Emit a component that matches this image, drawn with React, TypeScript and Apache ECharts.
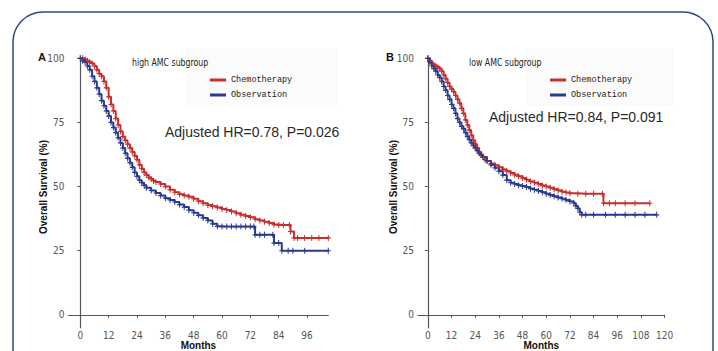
import React, { useEffect, useRef } from "react";
import * as echarts from "echarts";

// ---- data (months, survival %) ----
const xTicksA = [0, 12, 24, 36, 48, 60, 72, 84, 96];
const xTicksB = [0, 12, 24, 36, 48, 60, 72, 84, 96, 108, 120];
const yTicks = [0, 25, 50, 75, 100];

const highChemo: number[][] = [
  [0, 100], [1, 100], [2, 99.5], [3, 99], [4, 98.5], [5, 98], [6, 97], [7, 95.5], [8, 94], [9, 93],
  [10, 91], [11, 88.5], [12, 85], [13, 82], [14, 79.5], [15, 76.5], [16, 74], [17, 71.5], [18, 69.5],
  [19, 68], [20, 66.5], [21, 65], [22, 63.5], [23, 62], [24, 60.5], [25, 58.5], [26, 57], [27, 55.5],
  [28, 54.5], [29, 53.5], [30, 53], [31, 52.2], [32, 51.8], [34, 51], [36, 50], [38, 48.8], [40, 47.8],
  [42, 47], [44, 46.5], [46, 46], [48, 45.3], [50, 44.3], [52, 43.5], [54, 42.8], [56, 42.3], [58, 41.8],
  [60, 41.3], [62, 40.9], [64, 40.3], [66, 39.6], [68, 39], [70, 38.5], [72, 38], [74, 37.3], [76, 36.8],
  [78, 36.3], [80, 35.8], [82, 35.2], [84, 35], [86, 35], [88.5, 35], [89, 32.5], [90.5, 30], [92, 30],
  [95, 30], [98, 30], [101, 30], [105, 30],
];
const highObs: number[][] = [
  [0, 100], [1, 99], [2, 98.5], [3, 97], [4, 95.5], [5, 93], [6, 91], [7, 88.5], [8, 86], [9, 83.5],
  [10, 81.5], [11, 79.5], [12, 77.5], [13, 75], [14, 73], [15, 71], [16, 69], [17, 67], [18, 65], [19, 63],
  [20, 61], [21, 59.3], [22, 57.5], [23, 55.5], [24, 54], [25, 52.5], [26, 51.5], [27, 50.5], [28, 49.5],
  [30, 48.5], [32, 47.5], [34, 46.5], [36, 45.5], [38, 44.8], [40, 44], [42, 43], [44, 42], [46, 40.8],
  [48, 39.8], [50, 38.8], [52, 37.8], [54, 36.8], [56, 35.5], [58, 34.5], [60, 34.4], [62, 34.4],
  [64, 34.4], [66, 34.4], [68, 34.4], [70, 34.4], [72, 34.4], [73.5, 34.4], [74, 31.2], [76, 31.2],
  [78, 31.2], [81.5, 31.2], [82, 28], [84, 28], [85.3, 25], [88, 25], [90, 25], [95, 25], [105, 25],
];
const lowChemo: number[][] = [
  [0, 100], [1, 99], [2, 98], [3, 97.5], [4, 97], [5, 96.5], [6, 96], [7, 95], [8, 93.5], [9, 92],
  [10, 90.5], [11, 89], [12, 88], [13, 87], [14, 85.5], [15, 84], [16, 82.5], [17, 80.5], [18, 78.5],
  [19, 76], [20, 74], [21, 72], [22, 70], [23, 68], [24, 66.5], [25, 65], [26, 63.5], [27, 62.5],
  [28, 61.5], [29, 60.5], [30, 60], [32, 59], [34, 58.3], [36, 57.5], [38, 56.7], [40, 56], [42, 55.3],
  [44, 54.6], [46, 54], [48, 53.3], [50, 52.7], [52, 52], [54, 51.5], [56, 51], [58, 50.4], [60, 50],
  [62, 49.5], [64, 49], [66, 48.5], [68, 48], [70, 47.7], [72, 47.4], [76, 47.2], [80, 47.2], [84, 47.2],
  [88.5, 47.2], [89, 43.5], [92, 43.5], [95, 43.5], [100, 43.5], [105, 43.5], [112.5, 43.5],
];
const lowObs: number[][] = [
  [0, 100], [1, 98.5], [2, 97], [3, 96], [4, 95], [5, 93.5], [6, 92.5], [7, 91], [8, 89], [9, 87.5],
  [10, 85.5], [11, 84], [12, 82], [13, 80.5], [14, 78.5], [15, 76.5], [16, 75], [17, 73.5], [18, 72.5],
  [19, 71], [20, 69.5], [21, 68.3], [22, 67], [23, 66], [24, 65], [25, 64], [26, 63], [27, 62.3],
  [28, 61.5], [30, 60], [32, 58.5], [34, 57.3], [36, 56], [38, 54.5], [40, 52.5], [42, 51.5], [44, 51],
  [46, 50.5], [48, 50.2], [50, 49.8], [52, 49.2], [54, 48.8], [56, 48.3], [58, 47.8], [60, 47.2],
  [62, 46.7], [64, 46.2], [66, 45.7], [68, 45.3], [70, 44.8], [72, 44.2], [74, 43.5], [75, 42.5],
  [76, 41.5], [77, 40], [78, 39], [80, 39], [84, 39], [90, 39], [95, 39], [100, 39], [105, 39],
  [110, 39], [116, 39],
];

const RED = "#c62f2e";
const BLUE = "#2a3a8e";
const AXIS = "#555";
const NARROW = "'Liberation Sans Narrow', 'DejaVu Sans Condensed', 'Liberation Sans', sans-serif";
const PLUS = "path://M2,0h1v2h2v1h-2v2h-1v-2h-2v-1h2z";

function makeX(idx: number, max: number, ticks: number[]) {
  return {
    type: "value",
    gridIndex: idx,
    min: -5,
    max,
    splitLine: { show: false },
    axisLine: { show: true, lineStyle: { color: AXIS, width: 1.2 } },
    axisTick: { show: true, length: 3, customValues: ticks, lineStyle: { color: AXIS } },
    axisLabel: { customValues: ticks, color: "#555", fontSize: 10, fontFamily: NARROW, margin: 3 },
    name: "Months",
    nameLocation: "middle",
    nameGap: 13,
    nameMoveOverlap: false,
    nameTextStyle: { color: "#111", fontWeight: "bold", fontSize: 10, fontFamily: "Liberation Sans", lineHeight: 10 },
  };
}
function makeY(idx: number) {
  return {
    type: "value",
    gridIndex: idx,
    min: -5,
    max: 100,
    splitLine: { show: false },
    axisLine: { show: true, lineStyle: { color: AXIS, width: 1.2 } },
    axisTick: { show: true, length: 3, customValues: yTicks, lineStyle: { color: AXIS } },
    axisLabel: { customValues: yTicks, color: "#555", fontSize: 10, fontFamily: NARROW, margin: 4 },
  };
}
function makeSeries(name: string, data: number[][], idx: number, color: string) {
  return {
    type: "line",
    name,
    xAxisIndex: idx,
    yAxisIndex: idx,
    data,
    step: "end",
    showSymbol: true,
    symbol: PLUS,
    symbolSize: [5, 6],
    itemStyle: { color },
    lineStyle: { color, width: 2 },
    silent: true,
  };
}
function legendAt(left: number) {
  return {
    orient: "vertical",
    left,
    top: 70,
    itemWidth: 16,
    itemHeight: 3,
    itemGap: 5,
    icon: "rect",
    data: ["Chemotherapy", "Observation"],
    textStyle: { fontFamily: "'Liberation Mono', monospace", fontSize: 8.5, color: "#222", lineHeight: 10 },
    selectedMode: false,
  };
}

export default function App() {
  const ref = useRef<HTMLDivElement>(null);
  useEffect(() => {
    if (!ref.current) return;
    const chart = echarts.init(ref.current, null, { renderer: "svg" });
    chart.setOption({
      animation: false,
      backgroundColor: "#fff",
      grid: [
        { left: 68.5, top: 58.3, width: 259.8, height: 269.4, outerBoundsMode: "none", containLabel: false },
        { left: 418, top: 58.3, width: 246.6, height: 269.4, outerBoundsMode: "none", containLabel: false },
      ],
      xAxis: [makeX(0, 105, xTicksA), makeX(1, 120, xTicksB)],
      yAxis: [makeY(0), makeY(1)],
      legend: [legendAt(205), legendAt(545)],
      series: [
        makeSeries("Chemotherapy", highChemo, 0, RED),
        makeSeries("Observation", highObs, 0, BLUE),
        makeSeries("Chemotherapy", lowChemo, 1, RED),
        makeSeries("Observation", lowObs, 1, BLUE),
      ],
      graphic: [
        { type: "rect", z: -10, shape: { x: 13, y: 12, width: 700, height: 420, r: 30 }, style: { fill: "none", stroke: "#2c4a7e", lineWidth: 1.5 } },
        { type: "rect", z: -5, shape: { x: 185, y: 48, width: 152, height: 60 }, style: { fill: "#fbfbfb" } },
        { type: "rect", z: -5, shape: { x: 525, y: 48, width: 150, height: 58 }, style: { fill: "#fbfbfb" } },
        { type: "text", x: 42, y: 57, style: { text: "A", fontSize: 11, fontWeight: "bold", fontFamily: "Liberation Sans", fill: "#111", align: "center", verticalAlign: "middle" } },
        { type: "text", x: 390, y: 57, style: { text: "B", fontSize: 11, fontWeight: "bold", fontFamily: "Liberation Sans", fill: "#111", align: "center", verticalAlign: "middle" } },
        { type: "text", x: 43, y: 187, rotation: Math.PI / 2, style: { text: "Overall Survival (%)", fontSize: 10, fontWeight: "bold", fontFamily: "Liberation Sans", fill: "#111", align: "center", verticalAlign: "middle" } },
        { type: "text", x: 393, y: 187, rotation: Math.PI / 2, style: { text: "Overall Survival (%)", fontSize: 10, fontWeight: "bold", fontFamily: "Liberation Sans", fill: "#111", align: "center", verticalAlign: "middle" } },
        { type: "text", x: 132, y: 62, scaleX: 0.87, style: { text: "high AMC subgroup", fontSize: 10, fontFamily: NARROW, fill: "#222", align: "left", verticalAlign: "middle" } },
        { type: "text", x: 469, y: 62, scaleX: 0.87, style: { text: "low AMC subgroup", fontSize: 10, fontFamily: NARROW, fill: "#222", align: "left", verticalAlign: "middle" } },
        { type: "text", x: 165, y: 132, style: { text: "Adjusted HR=0.78, P=0.026", fontSize: 14, fontFamily: "Liberation Sans", fill: "#2a2a2a", align: "left", verticalAlign: "middle" } },
        { type: "text", x: 489, y: 117, style: { text: "Adjusted HR=0.84, P=0.091", fontSize: 14, fontFamily: "Liberation Sans", fill: "#2a2a2a", align: "left", verticalAlign: "middle" } },
      ],
    });
    return () => chart.dispose();
  }, []);
  return <div ref={ref} style={{ width: 718, height: 351, position: "absolute", left: 0, top: 0 }} />;
}
